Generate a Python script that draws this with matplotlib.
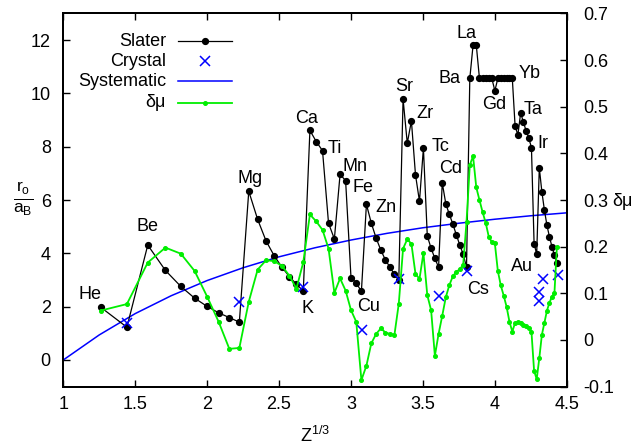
import numpy as np
import matplotlib
matplotlib.use("Agg")
import matplotlib.pyplot as plt
from matplotlib.lines import Line2D

plt.rcParams['font.family'] = ['Liberation Sans', 'DejaVu Sans']
plt.rcParams['mathtext.fontset'] = 'custom'
plt.rcParams['mathtext.rm'] = 'Liberation Sans'
plt.rcParams['mathtext.it'] = 'Liberation Sans:italic'

# atomic numbers He (2) .. Fr (87), x axis is Z^(1/3)
Z = np.arange(2, 88)

# Slater radius r_o/a_B, one value per element
slater = [1.98, 1.23, 4.31, 3.36, 2.76, 2.32, 2.01, 1.77, 1.59, 1.42,
          6.33, 5.27, 4.46, 3.91, 3.48, 3.13, 2.84, 2.59, 8.61, 8.19,
          7.85, 5.13, 4.54, 6.96, 6.73, 3.09, 2.89, 2.57, 5.84, 5.13,
          4.57, 4.12, 3.75, 3.48, 3.21, 3.00, 9.79, 8.13, 8.97, 6.95,
          5.95, 7.95, 4.65, 4.19, 3.81, 3.48, 6.65, 5.85, 5.46, 5.09,
          4.69, 4.31, 3.97, 3.48, 10.56, 11.81, 11.81, 10.56, 10.56, 10.56,
          10.56, 10.56, 10.10, 10.56, 10.56, 10.56, 10.56, 10.56, 10.56, 8.76,
          8.45, 9.27, 8.92, 8.60, 8.32, 7.97, 4.36, 3.97, 7.21, 6.31,
          5.62, 5.05, 4.62, 4.25, 3.94, 3.63]

# delta mu (right axis)
dmu = [0.063, 0.077, 0.166, 0.198, 0.185, 0.148, 0.093, 0.039, -0.019, -0.017,
       0.082, 0.151, 0.171, 0.169, 0.159, 0.138, 0.110, 0.167, 0.269, 0.254,
       0.236, 0.196, 0.101, 0.132, 0.106, 0.064, 0.039, -0.086, -0.055, -0.007,
       0.013, 0.025, 0.016, 0.013, 0.011, 0.078, 0.196, 0.216, 0.206, 0.142,
       0.131, 0.186, 0.096, 0.064, -0.034, 0.013, 0.052, 0.092, 0.118, 0.137,
       0.146, 0.152, 0.161, 0.253, 0.375, 0.394, 0.327, 0.300, 0.274, 0.251,
       0.221, 0.210, 0.207, 0.148, 0.117, 0.095, 0.071, 0.039, 0.018, 0.037,
       0.039, 0.037, 0.033, 0.030, 0.026, 0.018, -0.066, -0.084, -0.039, 0.011,
       0.037, 0.063, 0.080, 0.093, 0.100, 0.199]

# crystal radii
crystal_x = [1.441, 2.224, 2.667, 3.074, 3.331, 3.611, 3.803, 4.307, 4.308, 4.332, 4.437]
crystal_y = [1.40, 2.17, 2.75, 1.14, 3.05, 2.40, 3.35, 2.54, 2.21, 3.02, 3.20]

# systematic curve, read every 0.25
syst_x = [1.0, 1.25, 1.5, 1.75, 2.0, 2.25, 2.5, 2.75, 3.0, 3.25, 3.5, 3.75, 4.0, 4.25, 4.5]
syst_y = [0.0, 0.94, 1.74, 2.41, 2.98, 3.46, 3.87, 4.21, 4.50, 4.75, 4.96, 5.13, 5.28, 5.41, 5.52]

# element labels (text, x, y) in left-axis units
labels = [("He", 1.186, 2.44), ("Be", 1.583, 4.99), ("Mg", 2.30, 6.82),
          ("Ca", 2.69, 9.07), ("Ti", 2.89, 7.92), ("Mn", 3.03, 7.25),
          ("Fe", 3.085, 6.47), ("Zn", 3.24, 5.72), ("K", 2.70, 1.94),
          ("Cu", 3.12, 2.02), ("Sr", 3.37, 10.25), ("Zr", 3.515, 9.25),
          ("Tc", 3.62, 8.02), ("Cd", 3.69, 7.18), ("La", 3.80, 12.25),
          ("Ba", 3.685, 10.56), ("Gd", 3.995, 9.60), ("Yb", 4.24, 10.75),
          ("Ta", 4.265, 9.40), ("Ir", 4.335, 8.12), ("Au", 4.187, 3.50),
          ("Cs", 3.885, 2.63)]

FS = 13
green = '#00ee00'

fig = plt.figure(figsize=(6.39, 4.47), dpi=100)
ax = fig.add_axes([0.099, 0.135, 0.788, 0.835])
ax2 = ax.twinx()

x = np.cbrt(Z)
ax.plot(x, slater, color='black', lw=0.9, marker='o', ms=4.2, zorder=3)
ax.plot(crystal_x, crystal_y, ls='none', marker='x', color='#0000ff', ms=7, mew=1.1, zorder=4)
ax.plot(syst_x, syst_y, color='#0000ff', lw=1.1, zorder=2)
ax2.plot(x, dmu, color=green, lw=1.3, marker='o', ms=2.6)

ax.set_xlim(1, 4.5)
ax.set_ylim(-1, 13)
ax2.set_ylim(-0.1, 0.7)

xt = [1, 1.5, 2, 2.5, 3, 3.5, 4, 4.5]
ax.set_xticks(xt)
ax.set_xticklabels(["1", "1.5", "2", "2.5", "3", "3.5", "4", "4.5"], fontsize=FS)
yt = [0, 2, 4, 6, 8, 10, 12]
ax.set_yticks(yt)
ax.set_yticklabels([str(v) for v in yt], fontsize=FS)
y2t = [-0.1, 0, 0.1, 0.2, 0.3, 0.4, 0.5, 0.6, 0.7]
ax2.set_yticks(y2t)
ax2.set_yticklabels(["-0.1", "0", "0.1", "0.2", "0.3", "0.4", "0.5", "0.6", "0.7"], fontsize=FS)

ax.tick_params(axis='x', direction='in', top=True, length=5, width=1, pad=7)
ax.tick_params(axis='y', direction='in', right=False, length=5, width=1, pad=9)
ax2.tick_params(axis='y', direction='in', length=5, width=1, pad=12)
for a in (ax, ax2):
    for s in a.spines.values():
        s.set_linewidth(1.4)

for name, lx, ly in labels:
    ax.text(lx, ly, name, fontsize=FS, ha='center', va='center', zorder=5)

# legend (right aligned text, sample on the right)
rows = [0.926, 0.872, 0.818, 0.761]
names = ["Slater", "Crystal", "Systematic", "δμ"]
for nm, ry in zip(names, rows):
    ax.text(0.204, ry, nm, transform=ax.transAxes, fontsize=FS, ha='right', va='center')
ax.add_line(Line2D([0.228, 0.335], [rows[0]] * 2, transform=ax.transAxes, color='black', lw=0.9))
ax.add_line(Line2D([0.2815], [rows[0]], transform=ax.transAxes, color='black', marker='o', ms=4.2))
ax.add_line(Line2D([0.2815], [rows[1]], transform=ax.transAxes, color='#0000ff', marker='x', ms=7, mew=1.1, ls='none'))
ax.add_line(Line2D([0.228, 0.335], [rows[2]] * 2, transform=ax.transAxes, color='#0000ff', lw=1.1))
ax.add_line(Line2D([0.228, 0.335], [rows[3]] * 2, transform=ax.transAxes, color=green, lw=1.3))
ax.add_line(Line2D([0.2815], [rows[3]], transform=ax.transAxes, color=green, marker='o', ms=2.6))

fig.text(0.037, 0.553, r'$\frac{\mathrm{r}_{\mathrm{o}}}{\mathrm{a}_{\mathrm{B}}}$', fontsize=18,
         ha='center', va='center')
fig.text(0.974, 0.55, "δμ", fontsize=FS, ha='center', va='center')
fig.text(0.493, 0.025, r'$\mathrm{Z}^{1/3}$', fontsize=FS, ha='center', va='center')

fig.savefig("out.png", dpi=100)
